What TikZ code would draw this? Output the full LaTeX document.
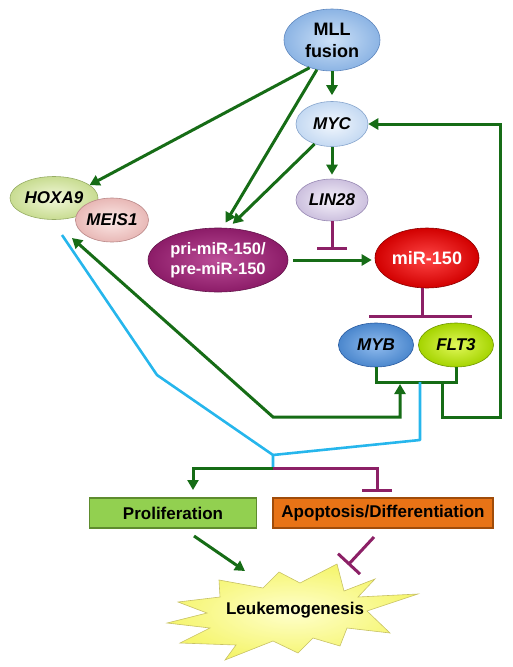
\documentclass[tikz,border=0pt]{standalone}
\usepackage{fontspec}
\setmainfont{Liberation Sans}
\usetikzlibrary{arrows.meta,shapes.geometric,calc}
\definecolor{gr}{RGB}{22,108,22}
\definecolor{pu}{RGB}{140,32,102}
\definecolor{bl}{RGB}{38,182,236}
\definecolor{mllIn}{RGB}{205,225,247}\definecolor{mllOut}{RGB}{140,180,228}\definecolor{mllDr}{RGB}{95,135,190}
\definecolor{mycIn}{RGB}{242,247,253}\definecolor{mycOut}{RGB}{196,217,242}\definecolor{mycDr}{RGB}{135,165,205}
\definecolor{hoxIn}{RGB}{242,248,218}\definecolor{hoxOut}{RGB}{200,220,145}\definecolor{hoxDr}{RGB}{150,172,100}
\definecolor{meiIn}{RGB}{252,234,232}\definecolor{meiOut}{RGB}{232,184,182}\definecolor{meiDr}{RGB}{185,135,135}
\definecolor{linIn}{RGB}{246,242,251}\definecolor{linOut}{RGB}{204,192,222}\definecolor{linDr}{RGB}{150,135,178}
\definecolor{priIn}{RGB}{188,78,152}\definecolor{priOut}{RGB}{140,28,104}\definecolor{priDr}{RGB}{100,20,75}
\definecolor{mirIn}{RGB}{255,70,70}\definecolor{mirOut}{RGB}{210,0,0}\definecolor{mirDr}{RGB}{140,0,0}
\definecolor{mybIn}{RGB}{145,188,238}\definecolor{mybOut}{RGB}{75,135,205}\definecolor{mybDr}{RGB}{40,90,160}
\definecolor{fltIn}{RGB}{225,248,90}\definecolor{fltOut}{RGB}{165,212,0}\definecolor{fltDr}{RGB}{110,150,0}
\begin{document}
\begin{tikzpicture}[x=1pt,y=-1pt,
  blob/.style n args={3}{ellipse, inner sep=0pt, shading=radial, inner color=#1, outer color=#2, draw=#3, line width=0.6pt},
  gname/.style={font=\fontsize{17}{20}\selectfont\bfseries\itshape},
  garrow/.style={draw=gr, line width=3pt, -{Triangle[length=10pt,width=11pt]}},
  garrowtwo/.style={draw=gr, line width=3pt, {Triangle[length=10pt,width=11pt]}-{Triangle[length=10pt,width=11pt]}},
  gline/.style={draw=gr, line width=3pt},
  tee/.style={draw=pu, line width=3pt, -{Bar[width=30pt]}},
  puline/.style={draw=pu, line width=3pt},
  bline/.style={draw=bl, line width=2.6pt, line join=round},
  boxstyle/.style={rectangle, inner sep=0pt, minimum height=30pt, line width=1.2pt, font=\fontsize{17}{20}\selectfont\bfseries}
]
\useasboundingbox (0,0) rectangle (512,667);

% nodes
\node[blob={mllIn}{mllOut}{mllDr}, minimum width=96pt, minimum height=62pt, align=center, font=\fontsize{18}{22}\selectfont\bfseries] (mll) at (332,40) {MLL\\fusion};
\node[blob={mycIn}{mycOut}{mycDr}, minimum width=72pt, minimum height=45pt, gname] (myc) at (332,124) {MYC};
\node[blob={hoxIn}{hoxOut}{hoxDr}, minimum width=88pt, minimum height=43pt, gname] (hoxa) at (54,198) {HOXA9};
\node[blob={meiIn}{meiOut}{meiDr}, minimum width=73pt, minimum height=44pt, gname] (meis) at (112,220) {MEIS1};
\node[blob={linIn}{linOut}{linDr}, minimum width=72pt, minimum height=42pt, gname] (lin) at (332,200) {LIN28};
\node[blob={priIn}{priOut}{priDr}, minimum width=140pt, minimum height=64pt, align=center, text=white, font=\fontsize{16.5}{20}\selectfont\bfseries] (pri) at (218,260) {pri-miR-150/\\pre-miR-150};
\node[blob={mirIn}{mirOut}{mirDr}, minimum width=104pt, minimum height=60pt, text=white, font=\fontsize{18}{20}\selectfont\bfseries] (mir) at (427,258) {miR-150};
\node[blob={mybIn}{mybOut}{mybDr}, minimum width=75pt, minimum height=44pt, gname] (myb) at (376,345) {MYB};
\node[blob={fltIn}{fltOut}{fltDr}, minimum width=75pt, minimum height=44pt, gname] (flt) at (456,345) {FLT3};
\node[boxstyle, minimum width=167pt, fill={rgb,255:red,146;green,208;blue,80}, draw={rgb,255:red,94;green,140;blue,46}] (prol) at (173,513) {Proliferation};
\node[boxstyle, minimum width=220pt, fill={rgb,255:red,232;green,115;blue,22}, draw={rgb,255:red,160;green,76;blue,10}] (apo) at (383,513) {Apoptosis/Differentiation};

% starburst
\path[shading=radial, inner color=yellow!20!white, outer color={rgb,255:red,245;green,245;blue,110}, draw=yellow!50!gray, line width=0.6pt]
  (337,564) -- (344,591) -- (375,579) -- (358,597) -- (418,594) -- (367,611) -- (390,633) -- (347,628) -- (340,646) -- (313,638) -- (298,653) -- (273,641) -- (225,660) -- (236,645) -- (180,643) -- (210,628) -- (167,623) -- (207,613) -- (178,602) -- (220,597) -- (219,580) -- (263,588) -- (279,572) -- (300,583) -- cycle;
\node[font=\fontsize{17}{20}\selectfont\bfseries] (leuk) at (295,610) {Leukemogenesis};

% coordinates for free ends / bends
\coordinate (linT) at (332,250);
\coordinate (mirT) at (422,316);
\coordinate (mtL) at (369,316);
\coordinate (mtR) at (472,316);
\coordinate (brk) at (0,382);
\coordinate (fb) at (442,382);
\coordinate (fbC) at (500,417);
\coordinate (hx) at (72,238);
\coordinate (hb) at (273,417);
\coordinate (mb) at (400,384);
\coordinate (b0) at (62,235);
\coordinate (b1) at (157,375);
\coordinate (jn) at (273,455);
\coordinate (b2) at (420,382);
\coordinate (b3) at (420,440);
\coordinate (sp) at (273,468);
\coordinate (prT) at (193,490);
\coordinate (apT) at (377,492);
\coordinate (pA) at (194,536);
\coordinate (lkA) at (245,571);
\coordinate (aA) at (374,537);
\coordinate (lkB) at (348,565);

% connectors
\draw[garrow, shorten >=6pt] (mll.south) -- (myc.north);
\draw[garrow] (mll.231) -- (hoxa.20);
\draw[garrow, shorten >=6pt] (mll.243) -- (pri.82);
\draw[garrow, shorten >=6pt] (myc.229) -- (pri.72);
\draw[garrow, shorten >=4pt] (myc.south) -- (lin.north);
\draw[tee] (lin.south) -- (linT);
\draw[garrow, shorten <=5pt, shorten >=3pt] (pri.east) -- (pri.east -| mir.west);
\draw[puline] (mir.south -| mirT) -- (mirT);
\draw[puline] (mtL) -- (mtR);
\draw[gline] (myb.south) -- (myb.south |- brk) -| (flt.south);
\draw[garrow, line join=miter] (fb) |- (fbC) |- (myc.east);
\draw[garrowtwo, line join=miter] (hx) -- (hb) -| (mb);
\draw[bline] (b0) -- (b1) -- (jn) -- (sp);
\draw[bline] (b2) -- (b3) -- (jn);
\draw[garrow] (sp) -| (prT);
\draw[tee] (sp) -| (apT);
\draw[garrow] (pA) -- (lkA);
\draw[tee] (aA) -- (lkB);
\end{tikzpicture}
\end{document}
